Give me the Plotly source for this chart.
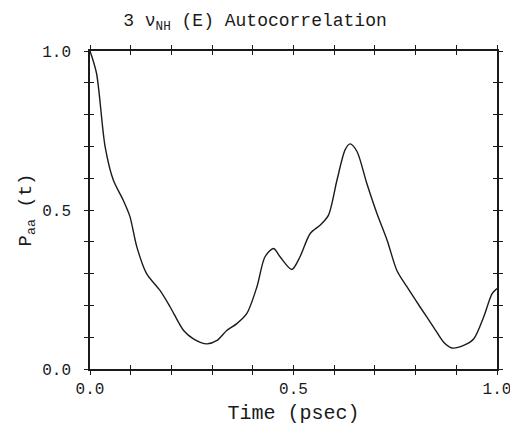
import plotly.graph_objects as go

time_ps = [0.0, 0.016, 0.037, 0.057, 0.082, 0.098, 0.115, 0.139, 0.172, 0.197, 0.23, 0.254,
           0.287, 0.311, 0.336, 0.36, 0.385, 0.41, 0.43, 0.451, 0.467, 0.496, 0.516, 0.541,
           0.566, 0.586, 0.607, 0.627, 0.639, 0.656, 0.68, 0.705, 0.73, 0.754, 0.779, 0.811,
           0.844, 0.869, 0.889, 0.918, 0.943, 0.967, 0.988, 1.0]
p_aa = [1.0, 0.93, 0.70, 0.595, 0.53, 0.48, 0.384, 0.30, 0.247, 0.195, 0.121, 0.095,
        0.079, 0.089, 0.121, 0.142, 0.174, 0.258, 0.353, 0.379, 0.353, 0.313, 0.353, 0.426,
        0.453, 0.484, 0.595, 0.69, 0.708, 0.684, 0.584, 0.489, 0.405, 0.31, 0.258, 0.195,
        0.132, 0.084, 0.066, 0.074, 0.095, 0.163, 0.237, 0.253]

tick_vals = [i / 10 for i in range(11)]
tick_text = ["0.0", "", "", "", "", "0.5", "", "", "", "", "1.0"]

FONT = "Liberation Mono"
INK = "#1a1a1a"

fig = go.Figure()
fig.add_trace(go.Scatter(x=time_ps, y=p_aa, mode="lines",
                         line=dict(color=INK, width=1.4, shape="spline", smoothing=0.8),
                         hoverinfo="skip", showlegend=False))
fig.add_trace(go.Scatter(x=[0, 1], y=[0, 1], xaxis="x2", yaxis="y2", mode="lines",
                         line=dict(width=0, color="rgba(0,0,0,0)"), hoverinfo="skip",
                         showlegend=False))

axis_common = dict(range=[0, 1], tickvals=tick_vals, showgrid=False, zeroline=False,
                   showline=True, linecolor=INK, linewidth=1.5, tickcolor=INK,
                   tickwidth=1, ticklen=4, mirror="ticks", automargin=False)

fig.update_layout(
    width=510, height=425,
    margin=dict(l=90, r=13, t=51, b=56),
    paper_bgcolor="white", plot_bgcolor="white",
    title=dict(text="3 ν<sub>NH</sub> (E) Autocorrelation", x=0.5, xanchor="center",
               y=1 - 20 / 425, yanchor="middle",
               font=dict(family=FONT, size=18, color=INK)),
    xaxis=dict(**axis_common, ticks="outside", ticktext=tick_text, ticklabeloverflow="allow",
               tickfont=dict(family=FONT, size=16, color=INK), ticklabelstandoff=0,
               title=dict(text="Time (psec)", font=dict(family=FONT, size=20, color=INK),
                          standoff=19)),
    yaxis=dict(**axis_common, ticks="outside", ticktext=tick_text,
               tickfont=dict(family=FONT, size=16, color=INK), ticklabelstandoff=10,
               title=dict(text="P<sub>aa</sub> (t)", font=dict(family=FONT, size=19, color=INK),
                          standoff=6)),
    xaxis2=dict(**axis_common, ticks="inside", overlaying="x", showticklabels=False,
                anchor="y2"),
    yaxis2=dict(**axis_common, ticks="inside", overlaying="y", showticklabels=False,
                anchor="x2"),
)

fig.write_html("out.html", config={"displayModeBar": False},
               post_script="document.body.style.margin='0';document.body.style.overflow='hidden';")
